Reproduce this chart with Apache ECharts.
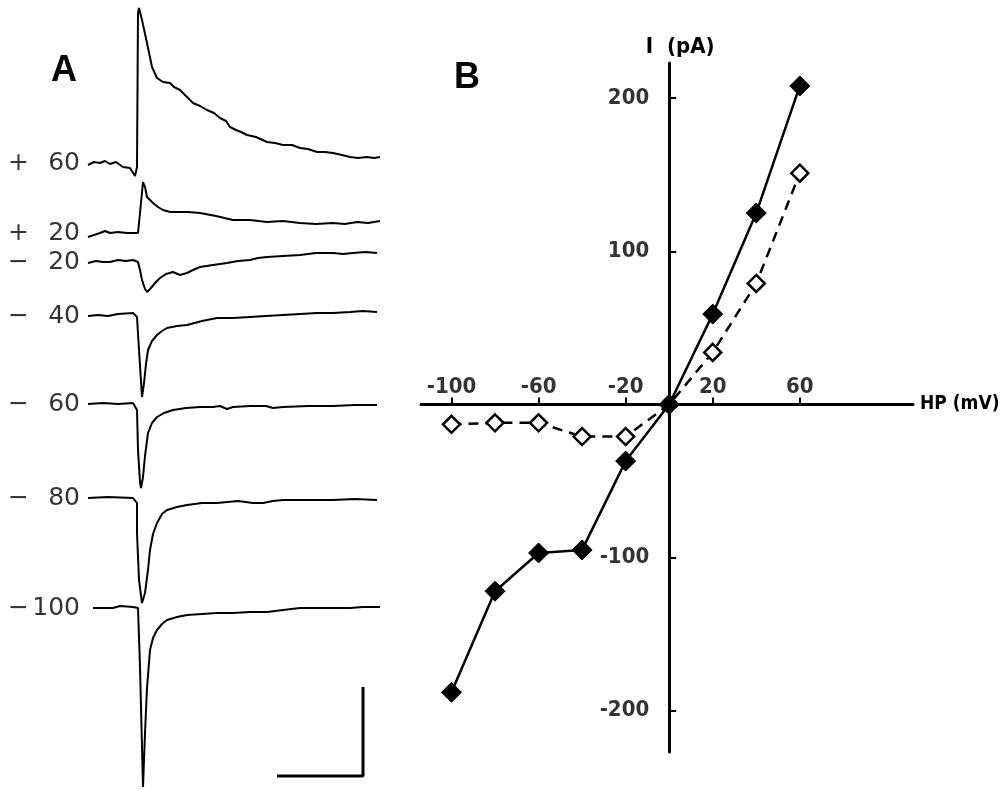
<!DOCTYPE html>
<html>
<head>
<meta charset="utf-8">
<script src="https://cdn.jsdelivr.net/npm/echarts@6/dist/echarts.min.js"></script>
<style>
  html, body { margin: 0; background: #fff; }
  #main { width: 1002px; height: 790px; }
</style>
</head>
<body>
<div id="main"></div>
<script>
// ---- panel A: current traces at each holding potential ----
// sign / value of the holding potential, and the row of each trace baseline
const holdSigns = ['+', '+', '−', '−', '−', '−', '−'];
const holdValues = ['60', '20', '20', '40', '60', '80', '100'];
const baselines = [163, 233, 262, 316, 404, 498, 608];

// [time, deflection] (up = outward)
const tracePlus60 = [[0, -2], [6, 1], [12, 0], [17, 2], [22, -1], [28, 1], [35, -4], [42, -5], [47, -13], [49, -4], [50, 150], [51, 155], [54, 143], [59, 120], [64, 96], [69, 85], [75, 81], [82, 80], [86, 76], [92, 73], [99, 66], [105, 60], [112, 57], [119, 53], [126, 50], [132, 45], [138, 42], [142, 36], [148, 33], [153, 31], [159, 28], [168, 26], [179, 21], [187, 20], [195, 18], [204, 18], [212, 15], [220, 14], [229, 11], [237, 11], [245, 10], [254, 8], [262, 6], [270, 5], [279, 6], [286, 5], [292, 6]];
const tracePlus20 = [[0, -4], [6, -2], [12, 0], [17, 2], [22, 0], [30, 1], [39, 0], [50, 0], [52, 20], [55, 51], [57, 46], [59, 36], [65, 30], [70, 26], [75, 23], [82, 21], [89, 21], [100, 21], [112, 20], [128, 17], [145, 13], [162, 13], [179, 11], [195, 12], [212, 10], [228, 9], [245, 10], [257, 9], [269, 11], [280, 10], [292, 12]];
const traceMinus20 = [[0, -1], [8, 1], [15, 0], [22, 0], [30, 2], [38, 1], [45, 2], [50, 0], [52, -8], [54, -18], [57, -27], [59, -30], [62, -27], [64, -25], [68, -20], [72, -16], [78, -12], [85, -10], [92, -13], [99, -11], [105, -8], [112, -5], [125, -3], [139, -1], [150, 1], [162, 2], [170, 4], [179, 5], [195, 6], [212, 7], [228, 9], [245, 9], [255, 8], [265, 9], [277, 10], [289, 9]];
const traceMinus40 = [[0, 0], [10, 1], [20, 0], [30, 2], [45, 3], [49, -1], [51, -34], [54, -81], [56, -67], [58, -48], [60, -34], [64, -25], [69, -19], [74, -15], [79, -12], [89, -10], [99, -9], [114, -5], [129, -2], [145, -2], [162, -1], [178, 0], [195, 1], [212, 2], [229, 3], [245, 3], [262, 4], [275, 5], [289, 4]];
const traceMinus60 = [[0, 0], [15, 1], [30, 0], [45, 1], [49, -6], [50, -46], [52, -78], [53, -84], [55, -73], [57, -52], [60, -29], [64, -19], [69, -13], [76, -9], [85, -6], [98, -4], [112, -3], [125, -3], [132, -2], [139, -5], [145, -3], [162, -2], [178, -2], [185, -4], [195, -3], [220, -2], [245, -2], [267, -1], [289, -1]];
const traceMinus80 = [[0, 0], [20, 1], [45, 0], [49, -5], [49, -35], [51, -82], [54, -105], [57, -95], [60, -72], [62, -52], [65, -36], [69, -25], [74, -16], [79, -12], [89, -9], [99, -7], [114, -5], [129, -5], [150, -3], [165, -5], [175, -5], [185, -3], [195, -2], [220, -2], [245, -2], [267, -1], [289, -2]];
const traceMinus100 = [[5, 0], [25, 0], [32, 2], [45, 1], [50, 0], [52, -59], [55, -179], [57, -125], [59, -80], [62, -42], [65, -30], [69, -22], [74, -16], [79, -12], [89, -9], [99, -7], [114, -6], [129, -5], [145, -5], [162, -4], [179, -4], [195, -2], [212, 0], [228, 0], [245, 0], [262, 0], [275, 1], [292, 1]];
const traces = [tracePlus60, tracePlus20, traceMinus20, traceMinus40, traceMinus60, traceMinus80, traceMinus100];

// calibration bar
const scaleBarT = [189, 275, 275];
const scaleBarRow = [776, 776, 687];

// ---- panel B: I-V relation ----
const hp = [-100, -80, -60, -40, -20, 0, 20, 40, 60];
const peakFilled = [-188, -122, -97, -95, -37, 0, 59, 125, 208];
const peakOpen = [-13, -12, -12, -21, -21, 0, 34, 79, 151];
const hpTicks = [-100, -60, -20, 20, 60];
const iTicks = [-200, -100, 100, 200];

const plotFont = "'Liberation Sans Narrow', 'DejaVu Sans Condensed', sans-serif";
const tickText = { fontFamily: plotFont, fontWeight: 'bold', fontSize: 22, color: '#000' };

const chart = echarts.init(document.getElementById('main'));

const traceSeries = traces.map((tr, k) => ({
  type: 'line',
  xAxisIndex: 0,
  yAxisIndex: 0,
  symbol: 'none',
  silent: true,
  lineStyle: { color: '#000', width: 2 },
  data: tr.map(p => [p[0], baselines[k] - p[1]])
}));

chart.setOption({
  animation: false,
  backgroundColor: '#fff',
  title: [
    { text: 'A', left: 51, top: 53, padding: 0, textStyle: { fontFamily: 'Liberation Sans', fontWeight: 'bold', fontSize: 36, color: '#000' } },
    { text: 'B', left: 454, top: 60, padding: 0, textStyle: { fontFamily: 'Liberation Sans', fontWeight: 'bold', fontSize: 36, color: '#000' } }
  ],
  grid: [
    { left: 88, top: 0, width: 292, height: 790, outerBoundsMode: 'none' },
    { left: 421, top: 63, width: 492, height: 689, outerBoundsMode: 'none' }
  ],
  xAxis: [
    { gridIndex: 0, type: 'value', min: 0, max: 292, show: false },
    {
      gridIndex: 1, type: 'value', min: -114, max: 112,
      name: 'HP (mV)', nameLocation: 'end', nameGap: 7,
      nameTextStyle: { fontFamily: plotFont, fontWeight: 'bold', fontSize: 19, color: '#000' },
      axisLine: { onZero: true, lineStyle: { color: '#000', width: 3 } },
      axisTick: { inside: true, length: 7, customValues: hpTicks, lineStyle: { color: '#000', width: 2 } },
      axisLabel: { show: false },
      splitLine: { show: false }
    }
  ],
  yAxis: [
    { gridIndex: 0, type: 'value', min: 0, max: 790, inverse: true, show: false },
    {
      gridIndex: 1, type: 'value', min: -227, max: 223,
      name: 'I  (pA)', nameLocation: 'end', nameGap: 5,
      nameTextStyle: { fontFamily: plotFont, fontWeight: 'bold', fontSize: 22, color: '#000', padding: [0, 0, 0, 22] },
      axisLine: { onZero: true, lineStyle: { color: '#000', width: 3 } },
      axisTick: { inside: true, length: 7, customValues: iTicks, lineStyle: { color: '#000', width: 2 } },
      axisLabel: { show: false },
      splitLine: { show: false }
    }
  ],
  series: traceSeries.concat([
    {
      // holding potential labels left of each trace
      type: 'scatter',
      xAxisIndex: 0,
      yAxisIndex: 0,
      symbolSize: 0,
      silent: true,
      data: baselines.map(b => [0, b]),
      label: {
        show: true,
        position: 'left',
        distance: 8,
        formatter: p => '{s|' + holdSigns[p.dataIndex] + '}{n|' + holdValues[p.dataIndex] + '}',
        rich: {
          s: { width: 24, align: 'left', fontFamily: 'DejaVu Sans', fontSize: 25, color: '#000' },
          n: { width: 48, align: 'right', fontFamily: 'DejaVu Sans', fontSize: 25, color: '#000' }
        }
      }
    },
    {
      type: 'line',
      xAxisIndex: 0,
      yAxisIndex: 0,
      symbol: 'none',
      silent: true,
      lineStyle: { color: '#000', width: 3 },
      data: scaleBarT.map((t, i) => [t, scaleBarRow[i]])
    },
    {
      // HP tick labels sitting above the crossing axis
      type: 'scatter',
      xAxisIndex: 1,
      yAxisIndex: 1,
      symbolSize: 0,
      silent: true,
      data: hpTicks.map(v => [v, 0]),
      label: { show: true, position: 'top', distance: 6, formatter: p => String(p.value[0]), ...tickText }
    },
    {
      // current tick labels left of the crossing axis
      type: 'scatter',
      xAxisIndex: 1,
      yAxisIndex: 1,
      symbolSize: 0,
      silent: true,
      data: iTicks.map(v => [0, v]),
      label: { show: true, position: 'left', distance: 20, formatter: p => String(p.value[1]), ...tickText }
    },
    {
      type: 'line',
      xAxisIndex: 1,
      yAxisIndex: 1,
      symbol: 'diamond',
      symbolSize: 17,
      itemStyle: { color: '#fff', borderColor: '#000', borderWidth: 2.5 },
      lineStyle: { color: '#000', width: 2.5, type: [10, 7] },
      data: hp.map((v, i) => [v, peakOpen[i]]),
      z: 3
    },
    {
      type: 'line',
      xAxisIndex: 1,
      yAxisIndex: 1,
      symbol: 'diamond',
      symbolSize: 20,
      itemStyle: { color: '#000', borderColor: '#000', borderWidth: 1 },
      lineStyle: { color: '#000', width: 2.5 },
      data: hp.map((v, i) => [v, peakFilled[i]]),
      z: 4
    }
  ])
});
</script>
</body>
</html>
